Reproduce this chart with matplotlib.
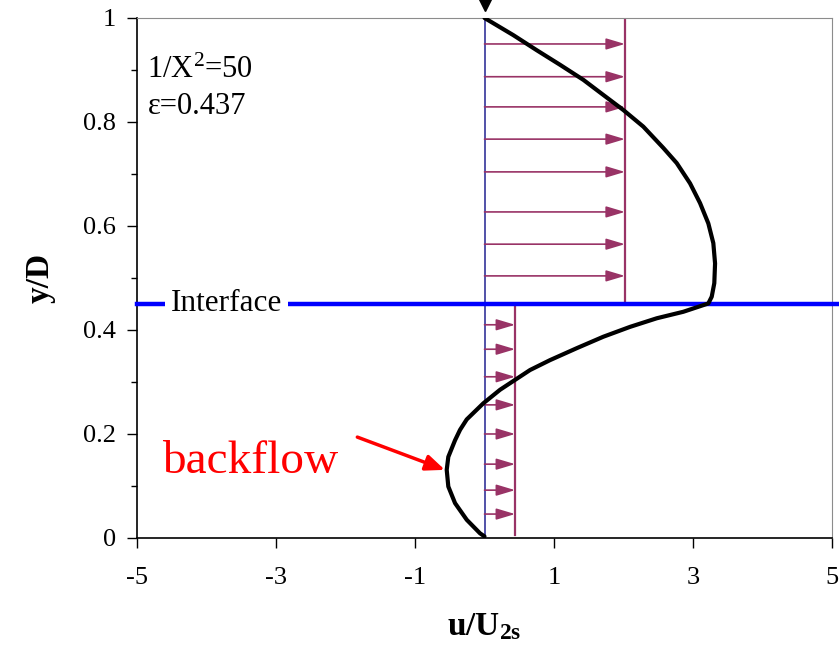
"""Velocity profile across a stratified two-layer flow with backflow near the wall."""

import matplotlib

matplotlib.use("Agg")
import matplotlib.pyplot as plt
import numpy as np

# measured profile u/U2s against y/D (bottom wall to top wall)
PROFILE_U = [0.0, -0.065, -0.256, -0.424, -0.521, -0.544, -0.521, -0.424, -0.352, -0.256,
             -0.017, 0.223, 0.439, 0.655, 0.942, 1.327, 1.709, 2.094, 2.478, 2.860,
             3.220, 3.269, 3.306, 3.317, 3.292, 3.220, 3.101, 2.957, 2.765, 2.573,
             2.285, 1.997, 1.709, 1.422, 1.086, 0.751, 0.414, 0.0]
PROFILE_Y = [0.003, 0.009, 0.035, 0.067, 0.099, 0.131, 0.156, 0.188, 0.208, 0.228,
             0.259, 0.285, 0.304, 0.323, 0.342, 0.365, 0.387, 0.406, 0.4225, 0.435,
             0.451, 0.464, 0.490, 0.528, 0.567, 0.605, 0.644, 0.682, 0.721, 0.750,
             0.791, 0.823, 0.852, 0.881, 0.910, 0.938, 0.967, 1.0]

# mean velocities of each layer (shown as arrow fields)
UPPER_MEAN = 2.02
LOWER_MEAN = 0.44
INTERFACE_Y = 0.45
UPPER_ARROW_Y = [0.95, 0.887, 0.829, 0.767, 0.704, 0.627, 0.565, 0.504]
LOWER_ARROW_Y = [0.41, 0.363, 0.31, 0.256, 0.20, 0.142, 0.092, 0.046]

X_TICKS = [-5, -3, -1, 1, 3, 5]
Y_TICKS = [0, 0.2, 0.4, 0.6, 0.8, 1.0]
Y_TICK_LABELS = ["0", "0.2", "0.4", "0.6", "0.8", "1"]

COLORS = {
    "profile": "black",
    "arrow": "#993366",
    "wall": "#333399",
    "interface": "#0000ff",
    "note": "#ff0000",
}

plt.rcParams.update(
    {
        "font.family": ["Liberation Serif", "DejaVu Serif"],
        "font.size": 19,
        "mathtext.fontset": "custom",
        "mathtext.rm": "Liberation Serif",
        "mathtext.it": "Liberation Serif",
        "mathtext.bf": "Liberation Serif:bold",
    }
)


def draw_arrows(ax, y_values, x_end, color):
    for y in y_values:
        ax.annotate(
            "",
            xy=(x_end, y),
            xytext=(0, y),
            arrowprops=dict(arrowstyle="-|>,head_length=0.6,head_width=0.18", color=color, lw=1.2,
                            shrinkA=0, shrinkB=0),
        )


def main():
    fig = plt.figure(figsize=(8.39, 6.51), dpi=100)
    ax = fig.add_axes([0.1633, 0.1736, 0.8284, 0.7988])

    ax.set_xlim(-5, 5)
    ax.set_ylim(0, 1)

    # wall reference line and layer mean velocities
    ax.plot([0, 0], [0, 1], color=COLORS["wall"], lw=1.2)
    ax.plot([UPPER_MEAN, UPPER_MEAN], [INTERFACE_Y, 1], color=COLORS["arrow"], lw=1.6)
    ax.plot([LOWER_MEAN, LOWER_MEAN], [0.005, INTERFACE_Y], color=COLORS["arrow"], lw=1.6)
    draw_arrows(ax, UPPER_ARROW_Y, UPPER_MEAN, COLORS["arrow"])
    draw_arrows(ax, LOWER_ARROW_Y, LOWER_MEAN, COLORS["arrow"])

    # interface
    ax.plot([-5, 5.1], [INTERFACE_Y, INTERFACE_Y], color=COLORS["interface"], lw=3.2,
            clip_on=False, zorder=3)
    ax.text(-3.71, INTERFACE_Y, "Interface", ha="center", va="center", fontsize=22.5, zorder=4,
            bbox=dict(facecolor="white", edgecolor="none", pad=4))

    # velocity profile
    ax.plot(PROFILE_U, PROFILE_Y, color=COLORS["profile"], lw=3, zorder=5,
            solid_capstyle="round", solid_joinstyle="round")
    ax.plot([0], [1.03], marker="v", markersize=13, color="black", clip_on=False)

    ax.text(-4.85, 0.90, r"1/X$^2$=50", fontsize=22, va="center")
    ax.text(-4.85, 0.83, "ε=0.437", fontsize=22, va="center")

    ax.annotate("", xy=(-0.57, 0.131), xytext=(-1.83, 0.194),
                arrowprops=dict(arrowstyle="-|>,head_length=0.6,head_width=0.25",
                                color=COLORS["note"], lw=2.5, shrinkA=0, shrinkB=0))
    ax.text(-4.64, 0.146, "backflow", color=COLORS["note"], fontsize=34, va="center")

    ax.set_xticks(X_TICKS)
    ax.set_xticklabels([str(t) for t in X_TICKS])
    ax.set_yticks(Y_TICKS)
    ax.set_yticklabels(Y_TICK_LABELS)
    ax.set_yticks(np.arange(0.1, 1.0, 0.2), minor=True)
    ax.tick_params(axis="both", which="major", length=7, width=1, direction="out", labelsize=19)
    ax.tick_params(axis="y", which="minor", length=4, width=1, direction="out")
    ax.tick_params(axis="x", pad=14)
    ax.tick_params(axis="y", pad=8)

    for side in ("top", "right"):
        ax.spines[side].set_color("#8c8c8c")
    ax.spines["left"].set_linewidth(1.2)
    ax.spines["bottom"].set_linewidth(1.2)

    ax.set_xlabel(r"u/U$_{\mathbf{2s}}$", fontweight="bold", fontsize=24, labelpad=16)
    ax.set_ylabel("y/D", fontweight="bold", fontsize=24, labelpad=20)

    fig.savefig("out.png", dpi=100)
    plt.close(fig)


if __name__ == "__main__":
    main()
